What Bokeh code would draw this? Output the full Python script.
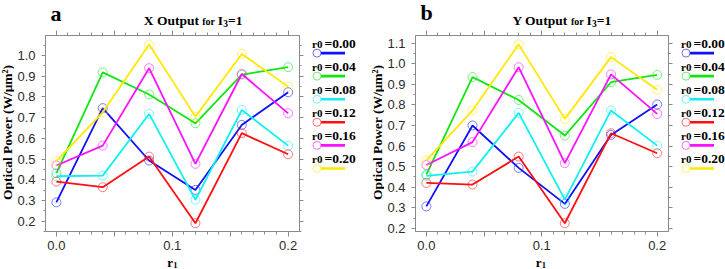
import math
from bokeh.plotting import figure
from bokeh.models import Range1d, LinearAxis, FixedTicker, CustomJSTickFormatter
from bokeh.layouts import row, column
from bokeh.core.properties import value
from bokeh.embed import file_html
from bokeh.resources import INLINE

# ---------------- data ----------------
r1 = [0.0, 0.04, 0.08, 0.12, 0.16, 0.2]
legend_prefix = "r0"
legend_values = ["=0.00", "=0.04", "=0.08", "=0.12", "=0.16", "=0.20"]
colors = ["#1010ff", "#10e610", "#10f0f0", "#ff1010", "#ff10ff", "#ffe800"]

# panel a: X output
x_r000 = [0.291, 0.746, 0.493, 0.351, 0.665, 0.823]
x_r004 = [0.432, 0.919, 0.812, 0.673, 0.908, 0.944]
x_r008 = [0.417, 0.420, 0.718, 0.303, 0.737, 0.565]
x_r012 = [0.391, 0.364, 0.512, 0.190, 0.625, 0.523]
x_r016 = [0.469, 0.565, 0.939, 0.477, 0.911, 0.721]
x_r020 = [0.490, 0.726, 1.053, 0.705, 1.008, 0.850]

# panel b: Y output
y_r000 = [0.307, 0.700, 0.494, 0.319, 0.654, 0.802]
y_r004 = [0.461, 0.935, 0.824, 0.651, 0.910, 0.946]
y_r008 = [0.455, 0.476, 0.761, 0.340, 0.773, 0.602]
y_r012 = [0.421, 0.413, 0.549, 0.225, 0.662, 0.565]
y_r016 = [0.508, 0.619, 0.983, 0.517, 0.948, 0.756]
y_r020 = [0.530, 0.773, 1.094, 0.732, 1.032, 0.873]

x_ticks = [0.0, 0.05, 0.1, 0.15, 0.2]
x_minor = [round(0.01 * i, 2) for i in range(0, 21)]
yt_a = [0.2, 0.3, 0.4, 0.5, 0.6, 0.7, 0.8, 0.9, 1.0]
yt_b = [0.2, 0.3, 0.4, 0.5, 0.6, 0.7, 0.8, 0.9, 1.0, 1.1]

y_label = "Optical Power (W/\u03bcm\u00b2)"

SERIF = "Liberation Serif"
SANS = "Liberation Sans"
GRAY = "#8a8a8a"

TOP_H = 29
MID_H = 226
BOT_H = 14


def strip(width, height):
    q = figure(width=width, height=height, output_backend="svg", toolbar_location=None,
               title=None, x_range=Range1d(0, width), y_range=Range1d(height, 0),
               x_axis_type=None, y_axis_type=None,
               min_border=0, min_border_left=0, min_border_right=0,
               min_border_top=0, min_border_bottom=0)
    q.xgrid.visible = False
    q.ygrid.visible = False
    q.outline_line_color = None
    q.background_fill_color = "white"
    q.border_fill_color = "white"
    return q


def txt(q, x, y_base, s, size_px, angle=0.0, align="left"):
    # y_base is the alphabetic baseline; text is placed with a middle baseline
    y_mid = y_base - 0.305 * size_px if angle == 0.0 else y_base
    q.text([x], [y_mid], text=[s], text_font=value(SERIF), text_font_style="bold",
           text_font_size=f"{size_px}px", text_color="black", angle=angle,
           text_align=align, text_baseline="middle")


def make_panel(width, data, yr, yticks):
    p = figure(width=width, height=MID_H, output_backend="svg", toolbar_location=None,
               title=None, x_range=Range1d(-0.0094, 0.2098), y_range=Range1d(*yr),
               x_axis_type=None, y_axis_type=None,
               min_border_left=29, min_border_right=8, min_border_top=6,
               min_border_bottom=24)
    p.outline_line_color = GRAY
    p.background_fill_color = "white"
    p.border_fill_color = "white"

    yminor = sorted(set(round(v, 2) for t in yticks for v in (t - 0.05, t + 0.05)))

    bottom = LinearAxis()
    top = LinearAxis()
    left = LinearAxis()
    right = LinearAxis()
    p.add_layout(bottom, "below")
    p.add_layout(top, "above")
    p.add_layout(left, "left")
    p.add_layout(right, "right")

    for ax in [bottom, top]:
        ax.ticker = FixedTicker(ticks=x_ticks, minor_ticks=x_minor)
        ax.major_tick_out = 5
        ax.minor_tick_out = 3
    for ax in [left, right]:
        ax.ticker = FixedTicker(ticks=yticks, minor_ticks=yminor)
        ax.major_tick_out = 4
        ax.minor_tick_out = 2
    for ax in [bottom, top, left, right]:
        ax.major_tick_in = 0
        ax.minor_tick_in = 0
        ax.axis_line_color = GRAY
        ax.major_tick_line_color = GRAY
        ax.minor_tick_line_color = GRAY
        ax.major_label_text_font = SANS
        ax.major_label_text_font_size = "13px"
        ax.major_label_text_color = "#2a2a2a"
    for ax in [top, right]:
        ax.major_label_text_color = None
        ax.major_label_text_font_size = "0px"
        ax.major_label_standoff = 0
    bottom.formatter = CustomJSTickFormatter(
        code="const k = Math.round(tick * 100); return (k % 10 == 0) ? tick.toFixed(1) : '';")
    left.formatter = CustomJSTickFormatter(code="return tick.toFixed(1);")
    bottom.major_label_standoff = 4
    left.major_label_standoff = 6

    for ys, c in zip(data, colors):
        p.line(r1, ys, line_color=c, line_width=1.8)
        p.scatter(r1, ys, marker="circle", size=9, fill_color=None,
                  line_color=c, line_alpha=0.55, line_width=1)
    return p


def make_legend(width):
    q = strip(width, MID_H)
    for i, (c, v) in enumerate(zip(colors, legend_values)):
        ty = 13.3 + 26.6 * i
        ly = ty + 7.0
        txt(q, 4.5, ty, legend_prefix, 11)
        txt(q, 17.0, ty, v, 13.5)
        q.line([13.0, 37.5], [ly, ly], line_color=c, line_width=2.6)
        q.scatter([9.5], [ly], marker="circle", size=8, fill_color="white",
                  line_color=c, line_alpha=0.6, line_width=1)
    return q


def make_ylabel(width, xc):
    q = strip(width, MID_H)
    txt(q, xc, 111.7, y_label, 13.5, angle=math.pi / 2, align="center")
    return q


# top strip: panel letters and titles
top_strip = strip(725, TOP_H)
for letter, lx, ly in [("a", 50, 20), ("b", 420, 19)]:
    txt(top_strip, lx, ly, letter, 22)
for first, tx in [("X Output", 143.3), ("Y Output", 512.0)]:
    txt(top_strip, tx, 24.5, first, 13.5)
    txt(top_strip, tx + 58.4, 24.5, "for", 10)
    txt(top_strip, tx + 74.0, 24.5, "I", 13.5)
    txt(top_strip, tx + 79.5, 26.0, "3", 9.5)
    txt(top_strip, tx + 84.2, 24.5, "=1", 13.5)

# bottom strip: r1 axis titles
bot_strip = strip(725, BOT_H)
for rx in [166.7, 535.3]:
    txt(bot_strip, rx, 10.5, "r", 13)
    txt(bot_strip, rx + 6.0, 12.3, "1", 8.5)

pa = make_panel(293, [x_r000, x_r004, x_r008, x_r012, x_r016, x_r020], (0.150, 1.097), yt_a)
pb = make_panel(292, [y_r000, y_r004, y_r008, y_r012, y_r016, y_r020], (0.185, 1.137), yt_b)

middle = row(make_ylabel(14, 7), pa, make_legend(55), make_ylabel(22, 15), pb, make_legend(49),
             spacing=0)
layout = column(top_strip, middle, bot_strip, spacing=0)
open("out.html", "w").write(file_html(layout, INLINE))
